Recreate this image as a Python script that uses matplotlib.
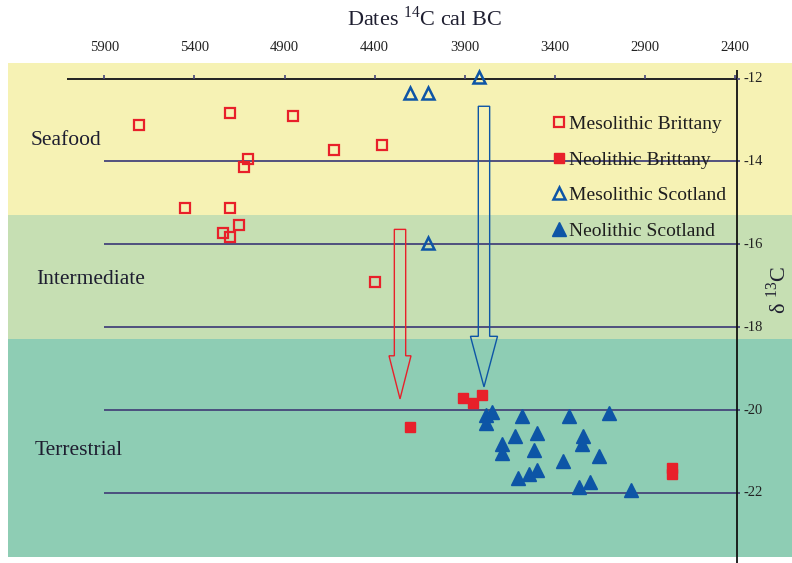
import numpy as np
import matplotlib.pyplot as plt

plt.rcParams['font.family'] = ['Liberation Serif', 'DejaVu Serif']
plt.rcParams['mathtext.fontset'] = 'custom'
plt.rcParams['mathtext.rm'] = 'Liberation Serif'

# dates (cal BC) and d13C values
meso_brit_x = [5706, 5204, 4851, 4627, 4357, 5101, 5126, 5454, 5204, 5153, 5243, 5204, 4398]
meso_brit_y = [-13.11, -12.83, -12.91, -13.73, -13.61, -13.93, -14.14, -15.12, -15.12, -15.53, -15.73, -15.82, -16.91]

neo_brit_x = [3908, 3856, 3804, 4204, 2750, 2750]
neo_brit_y = [-19.71, -19.84, -19.63, -20.40, -21.39, -21.53]

meso_scot_x = [4204, 4104, 3821, 4104]
meso_scot_y = [-12.35, -12.35, -11.97, -15.97]

neo_scot_x = [3748, 3782, 3782, 3582, 3321, 3101, 3623, 3500, 3691, 3691, 3514,
              3244, 3249, 3153, 3353, 3500, 3545, 3603, 3205, 3264, 2979]
neo_scot_y = [-20.05, -20.13, -20.30, -20.14, -20.14, -20.06, -20.63, -20.55, -20.83, -21.03, -20.96,
              -20.63, -20.83, -21.11, -21.24, -21.45, -21.53, -21.65, -21.73, -21.86, -21.93]

x_ticks = [5900, 5400, 4900, 4400, 3900, 3400, 2900, 2400]
y_ticks = [-12, -14, -16, -18, -20, -22]
grid_levels = [-14, -16, -18, -20, -22]

zones = ['Seafood', 'Intermediate', 'Terrestrial']
zone_limits = [(-15.29, -11.62), (-18.28, -15.29), (-23.54, -18.28)]
zone_colors = ['#f6f2b4', '#c6dfb3', '#8ecdb4']
zone_label_y = [-13.5, -16.85, -20.97]
zone_label_x = [6307, 6279, 6285]

red = '#e8202a'
blue = '#0d55a6'
navy = '#45457a'

fig = plt.figure(figsize=(7.92, 5.63), dpi=100)
ax = fig.add_axes([0, 0, 1, 1])
ax.set_xlim(6478.8, 2083.7)
ax.set_ylim(-23.689, -10.106)
ax.axis('off')

# background zones
for (lo, hi), c in zip(zone_limits, zone_colors):
    ax.fill_between([6434, 2000], lo, hi, color=c, lw=0, zorder=0)
for name, yy, xx in zip(zones, zone_label_y, zone_label_x):
    ax.text(xx, yy, name, fontsize=15.5, color='#1e1e30', va='center', ha='left')

# grid lines and axes
ax.hlines(grid_levels, 5900, 2375, color=navy, lw=1.3, zorder=1)
ax.hlines(-12, 6107, 2389, color='#222222', lw=1.4, zorder=1)
ax.vlines(2389, -23.7, -11.8, color='#111111', lw=1.3, zorder=1)
ax.vlines(x_ticks, -12, -11.92, color=navy, lw=1.2, zorder=1)
ax.hlines(-12, 2389, 2375, color=navy, lw=1.2, zorder=1)
for t in x_ticks:
    ax.text(t, -11.24, str(t), fontsize=10.5, ha='center', va='center', color='#222222')
for t in y_ticks:
    ax.text(2355, t, str(t), fontsize=10.5, ha='left', va='center', color='#222222')

ax.text(4126, -10.55, r'Dates $^{14}$C cal BC', fontsize=16, ha='center', va='center', color='#1e1e30')
ax.text(2160, -17.1, 'δ $^{13}$C', fontsize=16, ha='center', va='center',
        rotation=90, color='#1e1e30')

# arrows
ax.arrow(4259, -15.64, 0, -4.09, width=63, head_width=122, head_length=1.04,
         length_includes_head=True, fill=False, ec=red, lw=1.0, zorder=2)
ax.arrow(3793, -12.67, 0, -6.77, width=63, head_width=150, head_length=1.22,
         length_includes_head=True, fill=False, ec=blue, lw=1.0, zorder=2)

# data
ax.plot(meso_brit_x, meso_brit_y, 's', ms=6.6, mfc='none', mec=red, mew=1.6,
        ls='none', label='Mesolithic Brittany', zorder=3)
ax.plot(neo_brit_x, neo_brit_y, 's', ms=7.2, color=red, ls='none',
        label='Neolithic Brittany', zorder=3)
ax.plot(meso_scot_x, meso_scot_y, '^', ms=8.5, mfc='none', mec=blue, mew=1.8,
        ls='none', label='Mesolithic Scotland', zorder=3)
ax.plot(neo_scot_x, neo_scot_y, '^', ms=9.5, color=blue, ls='none',
        label='Neolithic Scotland', zorder=3)

ax.legend(loc='upper left', bbox_to_anchor=(0.685, 0.812), frameon=False, fontsize=14,
          handlelength=0.7, handletextpad=0.15, labelspacing=0.92, borderpad=0,
          labelcolor='#1e1e1e')

fig.savefig('out.png', dpi=100)
